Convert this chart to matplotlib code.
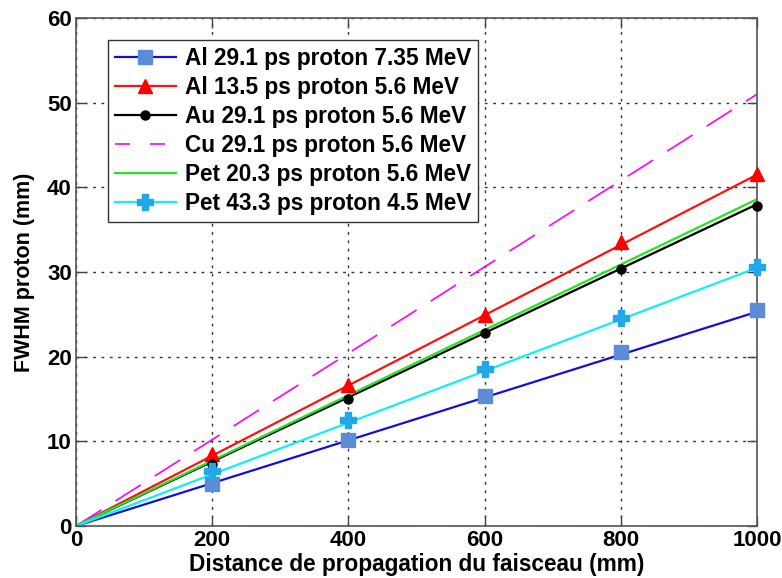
import matplotlib
matplotlib.use("Agg")
import matplotlib.pyplot as plt
from matplotlib.lines import Line2D

plt.rcParams['font.family'] = ['Liberation Sans', 'DejaVu Sans']
plt.rcParams['font.weight'] = 'bold'

x_mark = [200, 400, 600, 800, 1000]
x_line = [0, 1000]

labels = [
    "Al 29.1 ps proton 7.35 MeV",
    "Al 13.5 ps proton 5.6 MeV",
    "Au 29.1 ps proton 5.6 MeV",
    "Cu 29.1 ps proton 5.6 MeV",
    "Pet 20.3 ps proton 5.6 MeV",
    "Pet 43.3 ps proton 4.5 MeV",
]

# line end values (lines start at origin)
al29_line = [0, 25.3]
al13_line = [0, 41.5]
au29_line = [0, 38.0]
cu29_line = [0, 51.0]
pet20_line = [0, 38.6]
pet43_line = [0, 30.5]

# marker values
al29_mark = [5.0, 10.1, 15.3, 20.5, 25.5]
al13_mark = [8.5, 16.6, 24.9, 33.5, 41.6]
au29_mark = [7.3, 15.0, 22.8, 30.4, 37.8]
pet43_mark = [6.5, 12.5, 18.5, 24.6, 30.6]

fig = plt.figure(figsize=(7.82, 5.78), dpi=100)
ax = fig.add_axes([0.0972, 0.09, 0.871, 0.879])

# Al 29.1
ax.plot(x_line, al29_line, color='#1010d8', lw=1.6)
ax.plot(x_mark, al29_mark, ls='none', marker='s', ms=10, color='#5a8cd8', mec='#5a8cd8', clip_on=False, zorder=5)
# Al 13.5
ax.plot(x_line, al13_line, color='#ff1010', lw=1.6)
ax.plot(x_mark, al13_mark, ls='none', marker='^', ms=10, color='#ff0000', clip_on=False, zorder=5)
# Au 29.1
ax.plot(x_line, au29_line, color='black', lw=1.6)
ax.plot(x_mark, au29_mark, ls='none', marker='o', ms=6.5, color='black', clip_on=False, zorder=5)
# Cu
ax.plot(x_line, cu29_line, color='#ff00ff', lw=1.2, ls=(0, (18, 10)))
# Pet 20.3
ax.plot(x_line, pet20_line, color='#22e622', lw=1.6)
# Pet 43.3
ax.plot(x_line, pet43_line, color='#10f0f0', lw=1.6)
ax.plot(x_mark, pet43_mark, ls='none', marker='P', ms=11, color='#20a8e8', mec='#20a8e8', clip_on=False, zorder=5)

handles = [
    Line2D([], [], color='#1010d8', lw=1.6, marker='s', ms=10, mfc='#5a8cd8', mec='#5a8cd8'),
    Line2D([], [], color='#ff1010', lw=1.6, marker='^', ms=10, mfc='#ff0000', mec='#ff0000'),
    Line2D([], [], color='black', lw=1.6, marker='o', ms=6.5),
    Line2D([], [], color='#ff00ff', lw=1.2, ls=(0, (9, 12))),
    Line2D([], [], color='#22e622', lw=1.6),
    Line2D([], [], color='#10f0f0', lw=1.6, marker='P', ms=11, mfc='#20a8e8', mec='#20a8e8'),
]
leg = ax.legend(handles, labels, loc='upper left', bbox_to_anchor=(0.047, 0.957),
                prop={'size': 16.3, 'weight': 'bold'}, frameon=True, fancybox=False, framealpha=1,
                edgecolor='#333333', handlelength=2.7, handletextpad=0.4,
                labelspacing=0.27, borderpad=0.3, borderaxespad=0)
leg.get_frame().set_linewidth(1.0)

ax.set_xlim(0, 1000)
ax.set_ylim(0, 60)
ax.set_xticks([0, 200, 400, 600, 800, 1000])
ax.set_yticks([0, 10, 20, 30, 40, 50, 60])
ax.grid(True, color='#333333', ls=(0, (2, 4)), lw=1.0)
ax.tick_params(direction='in', top=True, right=True, labelsize=16, length=7, width=1, color='#444444', pad=3)
for s in ax.spines.values():
    s.set_color('#555555')
    s.set_linewidth(1.2)

ax.set_xlabel("Distance de propagation du faisceau (mm)", fontsize=16.3, fontweight='bold', labelpad=1)
ax.set_ylabel("FWHM proton (mm)", fontsize=15.5, fontweight='bold', labelpad=9)

fig.savefig("out.png", dpi=100)
